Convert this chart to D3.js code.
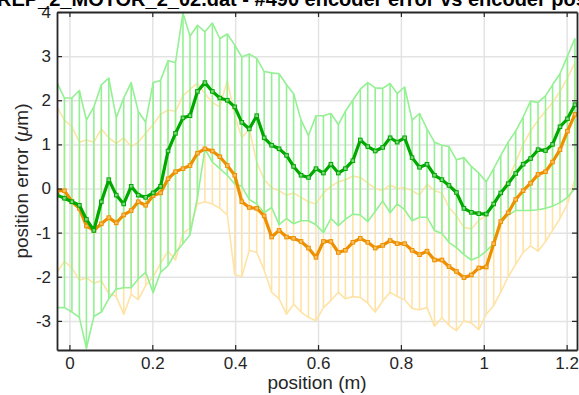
<!DOCTYPE html>
<html>
<head>
<meta charset="utf-8">
<script src="https://cdn.jsdelivr.net/npm/d3@7"></script>
<style>
  html, body { margin: 0; padding: 0; background: #fff; }
  svg { display: block; font-family: "Liberation Sans", Arial, Helvetica, sans-serif; }
</style>
</head>
<body>
<svg id="chart" width="579" height="395"></svg>
<script>
// Encoder position (m) at each sample
const positions = [
  -0.030,-0.012,0.006,0.024,0.041,0.059,0.077,0.095,0.113,0.131,
  0.149,0.166,0.184,0.202,0.220,0.238,0.256,0.274,0.291,0.309,
  0.327,0.345,0.363,0.381,0.399,0.416,0.434,0.452,0.470,0.488,
  0.506,0.524,0.541,0.559,0.577,0.595,0.613,0.631,0.649,0.666,
  0.684,0.702,0.720,0.738,0.756,0.774,0.791,0.809,0.827,0.845,
  0.863,0.881,0.899,0.916,0.934,0.952,0.970,0.988,1.006,1.024,
  1.041,1.059,1.077,1.095,1.113,1.131,1.149,1.166,1.184,1.202,
  1.220
];

// Green series: mean error and band limits (µm)
const greenMean = [
  -0.15,-0.22,-0.30,-0.38,-0.70,-0.95,-0.30,0.20,-0.15,-0.35,
  0.05,-0.15,-0.20,-0.10,0.05,0.85,1.25,1.60,1.65,2.20,
  2.40,2.20,2.05,2.00,1.85,1.50,1.35,1.65,1.15,0.98,
  0.90,0.75,0.50,0.30,0.25,0.45,0.35,0.55,0.35,0.45,
  0.63,1.10,0.95,0.85,0.93,1.15,1.05,1.15,0.70,0.48,
  0.55,0.30,0.20,0.07,-0.09,-0.45,-0.54,-0.57,-0.58,-0.35,
  -0.10,0.11,0.34,0.55,0.68,0.88,0.86,1.00,1.40,1.58,
  1.90
];
const greenUpper = [
  2.40,2.05,2.05,2.22,1.55,1.85,2.35,2.50,1.60,2.05,
  2.40,1.75,1.50,2.40,2.45,2.90,2.85,3.98,3.45,3.70,
  3.55,3.75,3.40,3.50,3.25,2.98,3.05,2.95,2.65,2.62,
  2.60,2.35,2.15,1.55,1.20,1.65,1.65,1.70,1.45,1.75,
  2.00,2.25,2.40,2.28,2.27,2.38,2.15,2.30,1.55,1.70,
  1.35,1.05,0.98,0.95,0.65,0.70,0.50,0.35,0.15,0.45,
  0.75,1.05,1.30,1.62,1.98,1.95,2.10,2.35,2.60,3.00,
  3.40
];
const greenLower = [
  -2.70,-2.70,-2.80,-2.92,-3.62,-2.90,-2.80,-2.50,-2.28,-2.25,
  -2.25,-2.05,-1.90,-2.36,-1.90,-1.75,-1.45,-1.25,-1.05,-0.20,
  0.90,0.60,0.45,0.30,0.10,0.05,-0.25,-0.35,-0.55,-0.43,
  -0.82,-0.68,-0.80,-0.73,-0.73,-0.82,-1.00,-0.68,-0.84,-0.70,
  -0.58,-0.60,-0.75,-0.52,-0.28,-0.55,-0.35,-0.48,-0.73,-0.65,
  -0.65,-0.95,-1.02,-1.22,-1.34,-1.50,-1.62,-1.55,-1.42,-1.25,
  -0.78,-0.60,-0.50,-0.50,-0.50,-0.48,-0.45,-0.40,-0.32,-0.20,
  0.00
];

// Orange series: mean error and band limits (µm)
const orangeMean = [
  -0.05,-0.05,-0.30,-0.45,-0.85,-0.95,-0.80,-0.66,-0.78,-0.60,
  -0.50,-0.30,-0.38,-0.16,-0.10,0.22,0.38,0.45,0.52,0.80,
  0.90,0.85,0.72,0.52,0.30,-0.30,-0.43,-0.45,-0.62,-1.10,
  -0.95,-1.10,-1.13,-1.20,-1.35,-1.56,-1.20,-1.20,-1.45,-1.40,
  -1.22,-1.13,-1.22,-1.35,-1.29,-1.18,-1.25,-1.25,-1.40,-1.50,
  -1.42,-1.62,-1.62,-1.77,-1.88,-2.02,-1.96,-1.80,-1.78,-1.25,
  -0.75,-0.55,-0.25,-0.05,0.12,0.32,0.38,0.60,0.88,1.30,
  1.68
];
const orangeUpper = [
  1.85,1.55,1.40,1.05,1.10,1.05,1.35,1.15,1.02,1.15,
  0.95,1.05,1.25,1.45,1.68,1.78,1.75,2.10,2.25,2.38,
  2.15,1.95,1.85,2.45,1.65,1.15,1.35,0.60,0.20,0.02,
  -0.05,-0.15,-0.10,-0.20,-0.30,-0.35,-0.10,0.05,0.15,0.20,
  0.28,0.25,0.12,0.00,-0.05,0.08,0.00,0.02,-0.05,-0.15,
  0.10,-0.05,-0.10,-0.43,-0.62,-0.88,-0.92,-0.72,-0.62,-0.35,
  -0.10,0.20,0.60,1.00,1.30,1.55,1.75,1.95,2.20,2.50,
  2.85
];
const orangeLower = [
  -1.90,-1.65,-1.80,-2.08,-2.02,-2.15,-2.09,-2.38,-2.45,-2.85,
  -2.40,-2.52,-2.20,-2.00,-1.70,-1.42,-1.62,-1.02,-0.90,-0.35,
  -0.30,-0.35,-0.45,-0.60,-1.95,-2.00,-1.40,-1.45,-1.85,-2.35,
  -2.50,-2.85,-2.62,-2.80,-2.92,-3.00,-2.70,-2.54,-2.35,-2.50,
  -2.45,-2.47,-2.60,-2.80,-2.55,-2.35,-2.45,-2.52,-2.72,-2.75,
  -2.70,-3.12,-2.93,-3.10,-3.22,-3.00,-3.05,-3.20,-2.85,-2.65,
  -2.35,-2.00,-1.72,-1.45,-1.30,-1.42,-1.20,-0.95,-0.68,-0.35,
  0.20
];

const xTicks = [0, 0.2, 0.4, 0.6, 0.8, 1, 1.2];
const yTicks = [-3, -2, -1, 0, 1, 2, 3, 4];
const titleText = "REP_2_MOTOR_2_02.dat - #490 encoder error vs encoder position";
const xLabel = "position (m)";

const svg = d3.select("#chart");
const W = 579, H = 395;
const plot = { left: 57, right: 577, top: 12, bottom: 350 };

const x = d3.scaleLinear().domain([-0.03, 1.225]).range([plot.left, plot.right]);
const y = d3.scaleLinear().domain([-3.66, 4]).range([plot.bottom, plot.top]);

svg.append("rect").attr("width", W).attr("height", H).attr("fill", "#fff");

// grid
const grid = svg.append("g").attr("class", "grid");
grid.append("g")
  .attr("transform", `translate(0,${plot.bottom})`)
  .call(d3.axisBottom(x).tickValues(xTicks).tickSize(-(plot.bottom - plot.top)).tickFormat(""))
  .call(g => g.select(".domain").remove());
grid.append("g")
  .attr("transform", `translate(${plot.left},0)`)
  .call(d3.axisLeft(y).tickValues(yTicks.filter(v => v < 4)).tickSize(-(plot.right - plot.left)).tickFormat(""))
  .call(g => g.select(".domain").remove());
grid.selectAll("line").attr("stroke", "#e3e3e3").attr("stroke-width", 1.5);

svg.append("clipPath").attr("id", "plotClip")
  .append("rect")
  .attr("x", plot.left).attr("y", plot.top)
  .attr("width", plot.right - plot.left).attr("height", plot.bottom - plot.top);

const rowsOf = (mean, lo, hi) => positions.map((p, i) => ({ p, m: mean[i], lo: lo[i], hi: hi[i] }));
const green = rowsOf(greenMean, greenLower, greenUpper);
const orange = rowsOf(orangeMean, orangeLower, orangeUpper);

const layer = svg.append("g").attr("clip-path", "url(#plotClip)");

// error bars: a vertical segment per sample plus upper/lower outlines
function drawBand(rows, color) {
  const g = layer.append("g");
  g.selectAll("line").data(rows).join("line")
    .attr("x1", d => x(d.p)).attr("x2", d => x(d.p))
    .attr("y1", d => y(d.lo)).attr("y2", d => y(d.hi))
    .attr("stroke", color).attr("stroke-width", 1.6);
  const hiLine = d3.line().x(d => x(d.p)).y(d => y(d.hi));
  const loLine = d3.line().x(d => x(d.p)).y(d => y(d.lo));
  g.append("path").attr("d", hiLine(rows)).attr("fill", "none")
    .attr("stroke", color).attr("stroke-width", 1.6).attr("stroke-linejoin", "round");
  g.append("path").attr("d", loLine(rows)).attr("fill", "none")
    .attr("stroke", color).attr("stroke-width", 1.6).attr("stroke-linejoin", "round");
}

// mean line with small square markers
function drawMean(rows, color, fill) {
  const g = layer.append("g");
  const line = d3.line().x(d => x(d.p)).y(d => y(d.m));
  g.append("path").attr("d", line(rows)).attr("fill", "none")
    .attr("stroke", color).attr("stroke-width", 3.2).attr("stroke-linejoin", "round");
  g.selectAll("rect").data(rows).join("rect")
    .attr("x", d => x(d.p) - 1.8).attr("y", d => y(d.m) - 1.8)
    .attr("width", 3.6).attr("height", 3.6)
    .attr("fill", fill).attr("stroke", color).attr("stroke-width", 1);
}

drawBand(orange, "#ffe3a6");
drawBand(green, "#93f193");
drawMean(orange, "#ee8f00", "#f6c060");
drawMean(green, "#00a800", "#7fd87f");

// axes (inward ticks, boxed)
const axisColor = "#262626";
const axes = svg.append("g");
axes.append("g").attr("transform", `translate(0,${plot.bottom})`)
  .call(d3.axisBottom(x).tickValues(xTicks).tickSizeInner(-5).tickSizeOuter(0).tickPadding(7)
    .tickFormat(d => d3.format("~g")(d)));
axes.append("g").attr("transform", `translate(${plot.left},0)`)
  .call(d3.axisLeft(y).tickValues(yTicks).tickSizeInner(-5).tickSizeOuter(0).tickPadding(6)
    .tickFormat(d => String(d)));
axes.append("g").attr("transform", `translate(0,${plot.top})`)
  .call(d3.axisTop(x).tickValues(xTicks).tickSizeInner(-5).tickSizeOuter(0).tickFormat(""));
axes.append("g").attr("transform", `translate(${plot.right},0)`)
  .call(d3.axisRight(y).tickValues(yTicks.filter(v => v < 4)).tickSizeInner(-5).tickSizeOuter(0).tickFormat(""));

axes.selectAll(".domain").attr("stroke", axisColor).attr("stroke-width", 1.8);
axes.selectAll(".tick line").attr("stroke", axisColor).attr("stroke-width", 1.2);
axes.selectAll(".tick text")
  .attr("fill", axisColor).attr("font-size", 17)
  .attr("font-family", "'Liberation Sans', Arial, sans-serif");

// labels
svg.append("text")
  .attr("x", (plot.left + plot.right) / 2).attr("y", 389)
  .attr("text-anchor", "middle").attr("font-size", 19).attr("fill", axisColor)
  .text(xLabel);

const yl = svg.append("text")
  .attr("transform", `translate(28,${(plot.top + plot.bottom) / 2}) rotate(-90)`)
  .attr("text-anchor", "middle").attr("font-size", 19).attr("fill", axisColor);
yl.append("tspan").text("position error (");
yl.append("tspan").attr("font-style", "italic").text("\u03bc");
yl.append("tspan").text("m)");

svg.append("text")
  .attr("x", -3).attr("y", 6)
  .attr("font-size", 20).attr("font-weight", "bold").attr("fill", "#000")
  .text(titleText);
</script>
</body>
</html>
